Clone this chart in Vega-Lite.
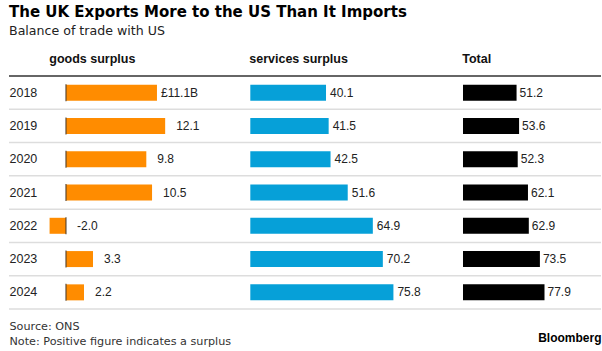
{
  "$schema": "https://vega.github.io/schema/vega-lite/v6.json",
  "padding": {"left": 8, "top": 5, "right": 2, "bottom": 0},
  "background": "#ffffff",
  "spacing": 0,
  "bounds": "flush",
  "title": {
    "text": "The UK Exports More to the US Than It Imports",
    "subtitle": "Balance of trade with US",
    "anchor": "start",
    "frame": "group",
    "font": "DejaVu Sans",
    "fontSize": 15,
    "fontWeight": "bold",
    "color": "#000000",
    "subtitleFont": "DejaVu Sans",
    "subtitleFontSize": 12.6,
    "subtitleColor": "#222222",
    "subtitlePadding": 5,
    "offset": 15
  },
  "config": {
    "view": {"stroke": null},
    "axis": {"grid": false, "ticks": false, "domain": false, "labels": false}
  },
  "data": {
    "values": [
      {"year": "2018", "goods": 11.1, "services": 40.1, "total": 51.2, "goodsLabel": "£11.1B"},
      {"year": "2019", "goods": 12.1, "services": 41.5, "total": 53.6, "goodsLabel": "12.1"},
      {"year": "2020", "goods": 9.8, "services": 42.5, "total": 52.3, "goodsLabel": "9.8"},
      {"year": "2021", "goods": 10.5, "services": 51.6, "total": 62.1, "goodsLabel": "10.5"},
      {"year": "2022", "goods": -2.0, "services": 64.9, "total": 62.9, "goodsLabel": "-2.0"},
      {"year": "2023", "goods": 3.3, "services": 70.2, "total": 73.5, "goodsLabel": "3.3"},
      {"year": "2024", "goods": 2.2, "services": 75.8, "total": 77.9, "goodsLabel": "2.2"}
    ]
  },
  "hconcat": [
    {
      "width": 232,
      "height": 233,
      "title": {"text": "goods surplus", "anchor": "start", "dx": 41, "font": "Liberation Sans", "fontSize": 12.5, "fontWeight": "bold", "color": "#111111", "offset": 10},
      "encoding": {
        "y": {"field": "year", "type": "ordinal", "scale": {"paddingInner": 0, "paddingOuter": 0},
          "axis": {"labels": true, "labelAlign": "left", "labelPadding": 0, "labelFont": "Liberation Sans", "labelFontSize": 12.5, "labelColor": "#222222", "title": null}},
        "x": {"field": "goods", "type": "quantitative", "scale": {"domain": [-6.95, 21.35], "nice": false, "zero": false},
          "axis": {"title": ["Source: ONS", "Note: Positive figure indicates a surplus"], "titleAnchor": "start", "titleFont": "DejaVu Sans", "titleFontSize": 11.2, "titleFontWeight": "normal", "titleColor": "#333333", "titlePadding": 11, "titleLineHeight": 15}}
      },
      "layer": [
        {"mark": {"type": "rule", "color": "#dddddd", "strokeWidth": 1.5}, "encoding": {"x": null, "y": {"field": "year", "type": "ordinal", "bandPosition": 1}}},
        {"transform": [{"filter": "datum.year == '2018'"}], "mark": {"type": "rule", "color": "#333333", "strokeWidth": 1.5}, "encoding": {"x": null, "y": {"field": "year", "type": "ordinal", "bandPosition": 0}}},
        {"mark": {"type": "bar", "color": "#ff8c00", "size": 16}},
        {"mark": {"type": "tick", "color": "#4a3a2a", "thickness": 1.5, "size": 17}, "encoding": {"x": {"datum": 0, "type": "quantitative"}}},
        {"transform": [{"filter": "datum.goods > 0 && datum.year != '2018'"}], "mark": {"type": "text", "align": "left", "dx": 11, "font": "Liberation Sans", "fontSize": 12, "color": "#222222"}, "encoding": {"text": {"field": "goodsLabel"}}},
        {"transform": [{"filter": "datum.year == '2018'"}], "mark": {"type": "text", "align": "left", "dx": 4, "font": "Liberation Sans", "fontSize": 12, "color": "#222222"}, "encoding": {"text": {"field": "goodsLabel"}}},
        {"transform": [{"filter": "datum.goods < 0"}], "mark": {"type": "text", "align": "left", "dx": 11, "font": "Liberation Sans", "fontSize": 12, "color": "#222222"}, "encoding": {"x": {"datum": 0, "type": "quantitative"}, "text": {"field": "goodsLabel"}}}
      ]
    },
    {
      "width": 215,
      "height": 233,
      "title": {"text": "services surplus", "anchor": "start", "dx": 9, "font": "Liberation Sans", "fontSize": 12.5, "fontWeight": "bold", "color": "#111111", "offset": 10},
      "encoding": {
        "y": {"field": "year", "type": "ordinal", "scale": {"paddingInner": 0, "paddingOuter": 0}, "axis": null},
        "x": {"field": "services", "type": "quantitative", "scale": {"domain": [-4.93, 108.95], "nice": false, "zero": false}, "axis": null}
      },
      "layer": [
        {"mark": {"type": "rule", "color": "#dddddd", "strokeWidth": 1.5}, "encoding": {"x": null, "y": {"field": "year", "type": "ordinal", "bandPosition": 1}}},
        {"transform": [{"filter": "datum.year == '2018'"}], "mark": {"type": "rule", "color": "#333333", "strokeWidth": 1.5}, "encoding": {"x": null, "y": {"field": "year", "type": "ordinal", "bandPosition": 0}}},
        {"mark": {"type": "bar", "color": "#06a0d8", "size": 16}},
        {"mark": {"type": "text", "align": "left", "dx": 4, "font": "Liberation Sans", "fontSize": 12, "color": "#222222"}, "encoding": {"text": {"field": "services", "type": "quantitative", "format": ".1f"}}}
      ]
    },
    {
      "width": 145,
      "height": 233,
      "title": {"text": "Total", "anchor": "start", "dx": 7, "font": "Liberation Sans", "fontSize": 12.5, "fontWeight": "bold", "color": "#111111", "offset": 10},
      "encoding": {
        "y": {"field": "year", "type": "ordinal", "scale": {"paddingInner": 0, "paddingOuter": 0}, "axis": null},
        "x": {"field": "total", "type": "quantitative", "scale": {"domain": [-6.69, 131.9], "nice": false, "zero": false},
          "axis": {"title": "Bloomberg", "titleAnchor": "end", "titleFont": "Liberation Sans", "titleFontSize": 12, "titleFontWeight": "bold", "titleColor": "#000000", "titlePadding": 23}}
      },
      "layer": [
        {"mark": {"type": "rule", "color": "#dddddd", "strokeWidth": 1.5}, "encoding": {"x": null, "y": {"field": "year", "type": "ordinal", "bandPosition": 1}}},
        {"transform": [{"filter": "datum.year == '2018'"}], "mark": {"type": "rule", "color": "#333333", "strokeWidth": 1.5}, "encoding": {"x": null, "y": {"field": "year", "type": "ordinal", "bandPosition": 0}}},
        {"mark": {"type": "bar", "color": "#000000", "size": 16}},
        {"mark": {"type": "text", "align": "left", "dx": 3, "font": "Liberation Sans", "fontSize": 12, "color": "#222222"}, "encoding": {"text": {"field": "total", "type": "quantitative", "format": ".1f"}}}
      ]
    }
  ]
}
